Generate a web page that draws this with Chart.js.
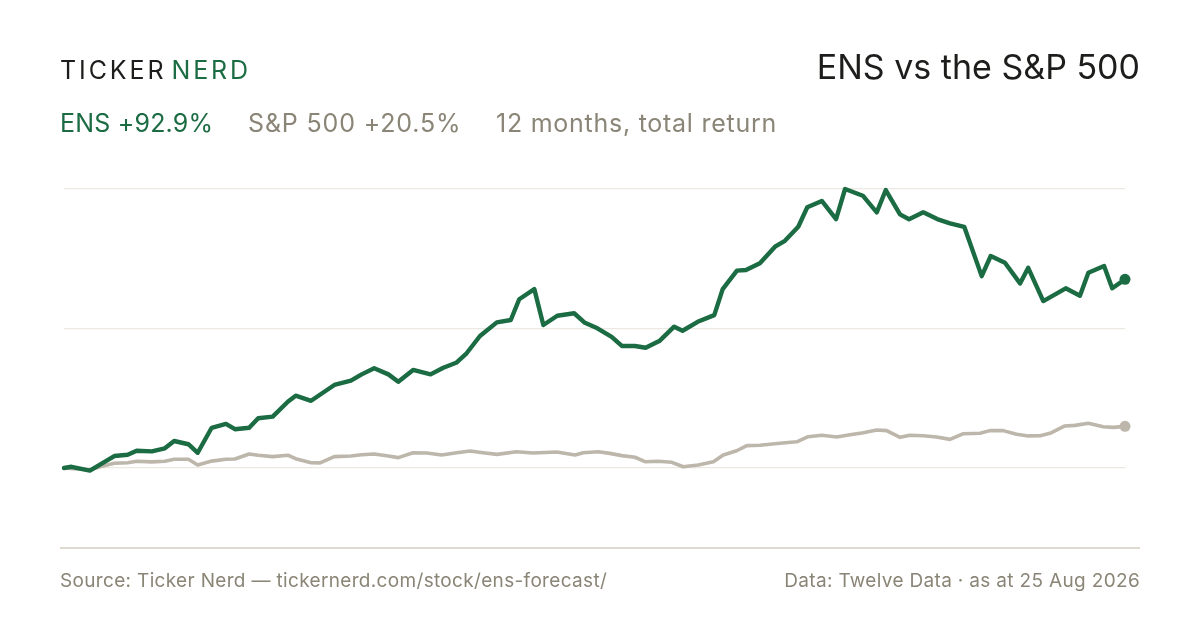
<!DOCTYPE html>
<html>
<head>
<meta charset="utf-8">
<script src="https://cdn.jsdelivr.net/npm/chart.js@4.4.1/dist/chart.umd.min.js"></script>
<style>
  html, body { margin: 0; padding: 0; background: #ffffff; }
  body { width: 1200px; height: 630px; position: relative; overflow: hidden; font-family: Inter, "Noto Sans", sans-serif; }
  #wrap { position: absolute; left: 0; top: 0; width: 1200px; height: 630px; }
  .t { position: absolute; white-space: nowrap; line-height: 1; }
  #logo { left: 60px; top: 58px; font-size: 25px; letter-spacing: 2.9px; color: #1d1d1b; }
  #logo span { color: #1b6b43; margin-left: 5px; }
  #title { right: 60px; top: 50px; font-size: 34px; color: #1d1d1b; }
  .sub { top: 111px; font-size: 25px; color: #8a8576; }
  #s1 { left: 60px; color: #1b6b43; letter-spacing: 0.2px; }
  #s2 { left: 248px; letter-spacing: 0.85px; }
  #s3 { left: 496px; letter-spacing: 0.74px; }
  #rule { position: absolute; left: 60px; top: 547px; width: 1080px; height: 2px; background: #dedad1; }
  .foot { top: 571px; font-size: 19px; color: #8a8576; letter-spacing: 0.33px; }
  #fl { left: 60px; }
  #fr { right: 60px; }
</style>
</head>
<body>
<div id="wrap"><canvas id="c" width="1200" height="630"></canvas></div>
<div class="t" id="logo">TICKER<span>NERD</span></div>
<div class="t" id="title">ENS vs the S&amp;P 500</div>
<div class="t sub" id="s1">ENS +92.9%</div>
<div class="t sub" id="s2">S&amp;P 500 +20.5%</div>
<div class="t sub" id="s3">12 months, total return</div>
<div id="rule"></div>
<div class="t foot" id="fl">Source: Ticker Nerd — tickernerd.com/stock/ens-forecast/</div>
<div class="t foot" id="fr">Data: Twelve Data · as at 25 Aug 2026</div>
<script>
// Day offsets (0 = 25 Aug 2025, 365 = 25 Aug 2026) and cumulative total return in %
const ensDays = [0, 2.6, 8.9, 17.3, 21.9, 25.0, 30.2, 34.7, 37.9, 42.8, 46.0, 50.8, 55.7, 58.8, 63.7, 66.8, 71.8, 77.0, 79.7, 85.0, 93.0, 98.7, 102.4, 106.7, 111.6, 115.0, 120.1, 126.1, 130.5, 134.9, 138.5, 143.1, 148.9, 153.7, 156.6, 161.8, 164.9, 169.7, 175.5, 179.2, 183.5, 188.4, 191.9, 196.4, 200.1, 204.8, 209.9, 212.8, 218.0, 223.7, 226.6, 231.5, 234.6, 239.4, 244.6, 248.0, 252.6, 255.7, 260.7, 265.6, 268.7, 274.8, 279.6, 282.7, 287.6, 290.7, 295.6, 300.4, 304.8, 309.7, 315.7, 318.8, 323.7, 328.9, 331.7, 336.9, 344.6, 349.5, 352.4, 357.8, 360.6, 365];
const ensReturn = [0, 0.6, -1.3, 5.9, 6.5, 8.5, 8.2, 9.7, 13.3, 11.7, 7.5, 19.8, 21.7, 19.1, 19.8, 24.5, 25.3, 32.6, 35.6, 33.1, 40.9, 43.0, 46.1, 49.1, 46.1, 42.5, 48.3, 46.1, 49.4, 51.8, 56.5, 65.0, 71.7, 72.9, 83.1, 88.1, 70.4, 75.0, 76.2, 71.5, 68.8, 64.6, 60.1, 60.1, 59.2, 62.5, 69.6, 67.6, 72.0, 75.3, 88.1, 97.2, 97.5, 100.8, 109.0, 111.9, 118.8, 128.4, 131.5, 122.6, 137.4, 134.1, 125.9, 136.9, 124.9, 122.5, 125.9, 122.6, 120.5, 118.8, 94.5, 104.4, 101.1, 90.9, 98.6, 82.2, 88.5, 84.8, 96.2, 99.5, 88.5, 92.9];
const spxDays = [0, 8.9, 12.4, 17.3, 21.9, 25.0, 30.2, 34.7, 37.9, 42.8, 46.0, 50.8, 55.7, 58.8, 63.7, 66.8, 71.8, 77.0, 79.7, 85.0, 88.1, 93.0, 98.7, 102.4, 106.7, 111.6, 115.0, 120.1, 124.8, 129.9, 135.1, 139.7, 144.2, 148.9, 155.7, 161.4, 169.5, 175.8, 178.6, 183.8, 187.8, 191.9, 196.4, 199.9, 204.4, 209.1, 213.0, 218.2, 223.4, 226.8, 231.4, 234.9, 239.4, 246.3, 252.1, 256.0, 260.7, 265.8, 270.4, 275.0, 279.6, 283.0, 287.6, 291.0, 295.6, 300.2, 304.8, 309.4, 315.1, 318.5, 323.1, 327.7, 331.7, 335.8, 339.2, 344.3, 347.8, 352.4, 357.5, 361.0, 365];
const spxReturn = [0, -1.0, 0.6, 2.3, 2.6, 3.3, 3.0, 3.3, 4.3, 4.3, 1.5, 3.4, 4.3, 4.4, 6.9, 6.3, 5.6, 6.3, 4.6, 2.6, 2.5, 5.6, 5.9, 6.5, 6.9, 5.9, 5.1, 7.5, 7.4, 6.4, 7.5, 8.4, 7.5, 6.7, 8.0, 7.4, 7.9, 6.4, 7.5, 8.0, 7.2, 6.1, 5.3, 3.1, 3.3, 2.8, 0.6, 1.5, 3.1, 6.4, 8.5, 11.0, 11.2, 12.2, 12.9, 15.4, 16.1, 15.3, 16.4, 17.4, 18.7, 18.4, 15.1, 16.1, 15.9, 15.3, 14.1, 16.9, 17.1, 18.4, 18.4, 16.6, 15.8, 15.9, 17.1, 20.7, 21.0, 22.0, 20.3, 20.0, 20.5];
const gridValues = [0, 68.7, 137.4];

const GREEN = '#1b6b43';
const GREY = '#bdb6aa';

function pts(xs, ys) { return xs.map((x, i) => ({ x: x, y: ys[i] })); }
function lastOnly(r) { return function (ctx) { return ctx.dataIndex === ctx.dataset.data.length - 1 ? r : 0; }; }

new Chart(document.getElementById('c'), {
  type: 'line',
  data: {
    datasets: [
      {
        label: 'ENS', data: pts(ensDays, ensReturn), borderColor: GREEN, backgroundColor: GREEN,
        borderWidth: 4.4, pointRadius: lastOnly(5.5), pointHoverRadius: 0, pointBorderWidth: 0,
        tension: 0, borderJoinStyle: 'round', borderCapStyle: 'round', clip: false, order: 1
      },
      {
        label: 'S&P 500', data: pts(spxDays, spxReturn), borderColor: GREY, backgroundColor: GREY,
        borderWidth: 3.6, pointRadius: lastOnly(5.5), pointHoverRadius: 0, pointBorderWidth: 0,
        tension: 0, borderJoinStyle: 'round', borderCapStyle: 'round', clip: false, order: 2
      }
    ]
  },
  options: {
    responsive: false,
    animation: false,
    devicePixelRatio: 1,
    layout: { padding: { left: 64, right: 75, top: 189, bottom: 82 } },
    plugins: { legend: { display: false }, tooltip: { enabled: false } },
    scales: {
      x: { type: 'linear', min: 0, max: 365, display: false },
      y: {
        type: 'linear', min: -39.4, max: 137.4,
        afterBuildTicks: function (axis) { axis.ticks = gridValues.map(v => ({ value: v })); },
        ticks: { display: false },
        border: { display: false },
        grid: { color: '#ece8e2', lineWidth: 1.2, drawTicks: false, tickLength: 0 }
      }
    }
  }
});
</script>
</body>
</html>
